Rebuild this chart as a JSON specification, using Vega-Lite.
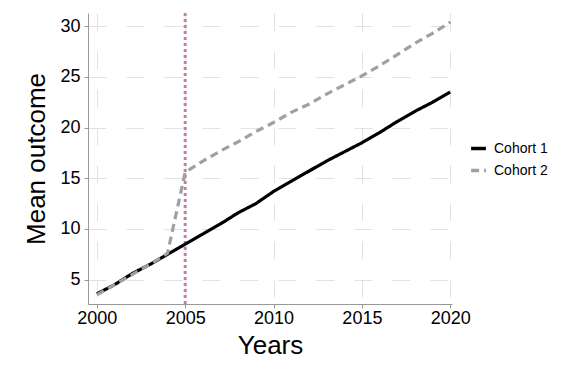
{
  "$schema": "https://vega.github.io/schema/vega-lite/v6.json",
  "autosize": "none",
  "width": 364,
  "height": 291,
  "padding": {"left": 88, "top": 13, "right": 124, "bottom": 80},
  "background": "white",
  "config": {
    "view": {"stroke": null},
    "font": "Liberation Sans",
    "axis": {
      "domainColor": "#999999",
      "tickColor": "#999999",
      "tickSize": 4,
      "labelFont": "Liberation Sans",
      "titleFont": "Liberation Sans",
      "labelColor": "black",
      "titleColor": "black",
      "labelFontSize": 18,
      "titleFontSize": 26,
      "titleFontWeight": "normal",
      "gridColor": "#e2e2e2",
      "gridDash": [18, 20],
      "gridWidth": 1
    },
    "legend": {"labelFont": "Liberation Sans", "labelFontSize": 14, "labelColor": "black"}
  },
  "datasets": {
    "series": [
      {"year": 2000, "value": 3.6, "cohort": "Cohort 1"},
      {"year": 2001, "value": 4.5, "cohort": "Cohort 1"},
      {"year": 2002, "value": 5.6, "cohort": "Cohort 1"},
      {"year": 2003, "value": 6.5, "cohort": "Cohort 1"},
      {"year": 2004, "value": 7.5, "cohort": "Cohort 1"},
      {"year": 2005, "value": 8.5, "cohort": "Cohort 1"},
      {"year": 2006, "value": 9.5, "cohort": "Cohort 1"},
      {"year": 2007, "value": 10.5, "cohort": "Cohort 1"},
      {"year": 2008, "value": 11.6, "cohort": "Cohort 1"},
      {"year": 2009, "value": 12.5, "cohort": "Cohort 1"},
      {"year": 2010, "value": 13.7, "cohort": "Cohort 1"},
      {"year": 2011, "value": 14.7, "cohort": "Cohort 1"},
      {"year": 2012, "value": 15.7, "cohort": "Cohort 1"},
      {"year": 2013, "value": 16.7, "cohort": "Cohort 1"},
      {"year": 2014, "value": 17.6, "cohort": "Cohort 1"},
      {"year": 2015, "value": 18.5, "cohort": "Cohort 1"},
      {"year": 2016, "value": 19.5, "cohort": "Cohort 1"},
      {"year": 2017, "value": 20.6, "cohort": "Cohort 1"},
      {"year": 2018, "value": 21.6, "cohort": "Cohort 1"},
      {"year": 2019, "value": 22.5, "cohort": "Cohort 1"},
      {"year": 2020, "value": 23.5, "cohort": "Cohort 1"},
      {"year": 2000, "value": 3.5, "cohort": "Cohort 2"},
      {"year": 2001, "value": 4.5, "cohort": "Cohort 2"},
      {"year": 2002, "value": 5.5, "cohort": "Cohort 2"},
      {"year": 2003, "value": 6.5, "cohort": "Cohort 2"},
      {"year": 2004, "value": 7.6, "cohort": "Cohort 2"},
      {"year": 2005, "value": 15.6, "cohort": "Cohort 2"},
      {"year": 2006, "value": 16.7, "cohort": "Cohort 2"},
      {"year": 2007, "value": 17.7, "cohort": "Cohort 2"},
      {"year": 2008, "value": 18.6, "cohort": "Cohort 2"},
      {"year": 2009, "value": 19.6, "cohort": "Cohort 2"},
      {"year": 2010, "value": 20.5, "cohort": "Cohort 2"},
      {"year": 2011, "value": 21.5, "cohort": "Cohort 2"},
      {"year": 2012, "value": 22.3, "cohort": "Cohort 2"},
      {"year": 2013, "value": 23.3, "cohort": "Cohort 2"},
      {"year": 2014, "value": 24.2, "cohort": "Cohort 2"},
      {"year": 2015, "value": 25.1, "cohort": "Cohort 2"},
      {"year": 2016, "value": 26.1, "cohort": "Cohort 2"},
      {"year": 2017, "value": 27.2, "cohort": "Cohort 2"},
      {"year": 2018, "value": 28.3, "cohort": "Cohort 2"},
      {"year": 2019, "value": 29.3, "cohort": "Cohort 2"},
      {"year": 2020, "value": 30.4, "cohort": "Cohort 2"}
    ],
    "policy": [{"year": 2005}]
  },
  "layer": [
    {
      "data": {"name": "policy"},
      "mark": {"type": "rule", "color": "#c07fb0", "strokeWidth": 3, "strokeDash": [3, 3]},
      "encoding": {
        "x": {"field": "year", "type": "quantitative", "scale": {"domain": [1999.5, 2020.1], "nice": false, "zero": false}}
      }
    },
    {
      "data": {"name": "series"},
      "mark": {"type": "line", "strokeWidth": 3.2},
      "encoding": {
        "x": {
          "field": "year", "type": "quantitative",
          "scale": {"domain": [1999.5, 2020.1], "nice": false, "zero": false},
          "axis": {"title": "Years", "values": [2000, 2005, 2010, 2015, 2020], "format": "d", "labelPadding": 1, "titlePadding": 5, "grid": true}
        },
        "y": {
          "field": "value", "type": "quantitative",
          "scale": {"domain": [2.6, 31.3], "nice": false, "zero": false},
          "axis": {"title": "Mean outcome", "values": [5, 10, 15, 20, 25, 30], "labelPadding": 4, "titlePadding": 10, "grid": true}
        },
        "color": {
          "field": "cohort", "type": "nominal",
          "scale": {"domain": ["Cohort 1", "Cohort 2"], "range": ["#000000", "#a0a0a0"]},
          "legend": {"title": null, "orient": "none", "legendX": 381, "legendY": 126, "symbolType": "stroke", "symbolStrokeWidth": 3.5, "symbolSize": 220, "rowPadding": 5, "labelOffset": 6}
        },
        "strokeDash": {
          "field": "cohort", "type": "nominal",
          "scale": {"domain": ["Cohort 1", "Cohort 2"], "range": [[1, 0], [8, 5]]},
          "legend": null
        }
      }
    }
  ]
}
